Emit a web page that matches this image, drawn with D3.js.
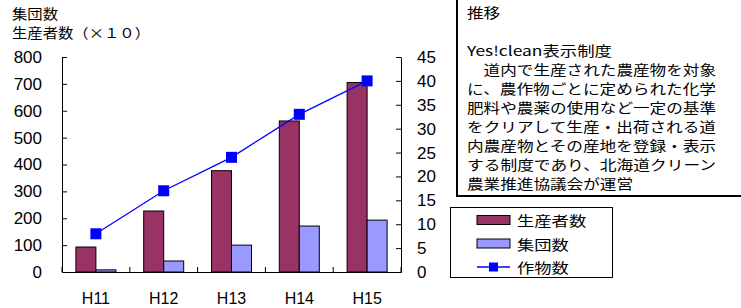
<!DOCTYPE html>
<html>
<head>
<meta charset="utf-8">
<script src="https://cdn.jsdelivr.net/npm/d3@7"></script>
<style>
  body { margin: 0; background: #fff; }
  svg { display: block; font-family: "Liberation Sans", Arial, sans-serif; }
  .jp { font-family: "Noto Sans CJK JP", sans-serif; }
</style>
</head>
<body>
<div id="chart"></div>
<script>
// data
const years = ["H11", "H12", "H13", "H14", "H15"];
const producers = [93, 227, 377, 562, 705];   // 生産者数 (×10)
const groups = [8, 41, 100, 171, 193];        // 集団数
const crops = [8, 17, 24, 33, 40];            // 作物数 (right axis)
const leftTicks = [0, 100, 200, 300, 400, 500, 600, 700, 800];
const rightTicks = [0, 5, 10, 15, 20, 25, 30, 35, 40, 45];
const noteLines = [
  "推移",
  "",
  "Yes!clean表示制度",
  "　道内で生産された農産物を対象",
  "に、農作物ごとに定められた化学",
  "肥料や農薬の使用など一定の基準",
  "をクリアして生産・出荷される道",
  "内農産物とその産地を登録・表示",
  "する制度であり、北海道クリーン",
  "農業推進協議会が運営"
];

const W = 741, H = 308;
const mLeft = 62, mRight = 401, mTop = 57, mBottom = 272;
const cw = 16.6; // width of one full-width character in the picture

const svg = d3.select("#chart").append("svg")
  .attr("width", W).attr("height", H);

const x = d3.scaleBand().domain(years).range([mLeft, mRight]);
const bw = x.bandwidth();
const x1 = d3.scaleBand().domain(["p", "g"]).range([bw * 0.205, bw * 0.795]);
const y = d3.scaleLinear().domain([0, 800]).range([mBottom, mTop]);
const y2 = d3.scaleLinear().domain([0, 45]).range([mBottom, mTop]);

// wide japanese text (glyphs stretched like in the source)
function jpText(sel, str, px, py, len) {
  return sel.append("text").attr("class", "jp")
    .attr("x", px).attr("y", py)
    .attr("font-size", 13.5)
    .attr("textLength", len)
    .attr("lengthAdjust", "spacingAndGlyphs")
    .text(str);
}

// axis titles
jpText(svg, "集団数", 12, 19, 46);
jpText(svg, "生産者数（×１０）", 12, 38, 138);

// bars
const g = svg.append("g");
g.selectAll("rect.p").data(producers).join("rect")
  .attr("class", "p")
  .attr("x", (d, i) => x(years[i]) + x1("p"))
  .attr("y", d => y(d))
  .attr("width", x1.bandwidth())
  .attr("height", d => y(0) - y(d))
  .attr("fill", "#993366").attr("stroke", "#000").attr("stroke-width", 1);
g.selectAll("rect.g").data(groups).join("rect")
  .attr("class", "g")
  .attr("x", (d, i) => x(years[i]) + x1("g"))
  .attr("y", d => y(d))
  .attr("width", x1.bandwidth())
  .attr("height", d => y(0) - y(d))
  .attr("fill", "#9999FF").attr("stroke", "#000").attr("stroke-width", 1);

// axes
const axL = svg.append("g").attr("transform", `translate(${mLeft},0)`)
  .call(d3.axisLeft(y).tickValues(leftTicks).tickSize(-5).tickPadding(20).tickSizeOuter(0));
const axR = svg.append("g").attr("transform", `translate(${mRight},0)`)
  .call(d3.axisRight(y2).tickValues(rightTicks).tickSize(-5).tickPadding(16).tickSizeOuter(0));
const axB = svg.append("g").attr("transform", `translate(0,${mBottom})`)
  .call(d3.axisBottom(x).tickSize(0).tickPadding(21).tickSizeOuter(0));
// category boundary ticks
svg.append("g").selectAll("line")
  .data(years.map(d => x(d)).concat([x(years[years.length - 1]) + bw]))
  .join("line")
  .attr("x1", d => d).attr("x2", d => d)
  .attr("y1", mBottom).attr("y2", mBottom - 5)
  .attr("stroke", "#000");

[axL, axR, axB].forEach(a => {
  a.selectAll("text").attr("font-size", 17).attr("fill", "#000")
    .attr("font-family", "Liberation Sans, Arial, sans-serif");
  a.selectAll("path, line").attr("stroke", "#000");
});
axB.selectAll("text").attr("font-size", 16);

// line series
const line = d3.line().x((d, i) => x(years[i]) + bw / 2).y(d => y2(d));
svg.append("path").datum(crops)
  .attr("d", line).attr("fill", "none")
  .attr("stroke", "#0000FF").attr("stroke-width", 1.3);
svg.selectAll("rect.m").data(crops).join("rect")
  .attr("class", "m")
  .attr("x", (d, i) => x(years[i]) + bw / 2 - 5.5)
  .attr("y", d => y2(d) - 5.5)
  .attr("width", 11).attr("height", 11)
  .attr("fill", "#0000FF");

// note box
svg.append("rect").attr("x", 457).attr("y", -5).attr("width", 300).attr("height", 201)
  .attr("fill", "#fff").attr("stroke", "#000").attr("stroke-width", 2);
const nb = svg.append("g");
noteLines.forEach((s, i) => {
  if (!s) return;
  const len = s.startsWith("Yes") ? 145 : s.length * cw;
  jpText(nb, s, 467, 18 + i * 19, len);
});

// legend
const lg = svg.append("g");
lg.append("rect").attr("x", 450.5).attr("y", 207.5).attr("width", 162).attr("height", 70)
  .attr("fill", "#fff").attr("stroke", "#000");
const legItems = [
  { name: "生産者数", type: "bar", color: "#993366" },
  { name: "集団数", type: "bar", color: "#9999FF" },
  { name: "作物数", type: "line", color: "#0000FF" }
];
legItems.forEach((d, i) => {
  const cy = 220 + i * 23.5;
  if (d.type === "bar") {
    lg.append("rect").attr("x", 477).attr("y", cy - 4.5).attr("width", 33).attr("height", 9)
      .attr("fill", d.color).attr("stroke", "#000");
  } else {
    lg.append("line").attr("x1", 477).attr("x2", 510).attr("y1", cy).attr("y2", cy)
      .attr("stroke", d.color).attr("stroke-width", 1.3);
    lg.append("rect").attr("x", 489).attr("y", cy - 4.5).attr("width", 9).attr("height", 9)
      .attr("fill", d.color);
  }
  jpText(lg, d.name, 517, cy + 6, d.name.length * 17.3);
});
</script>
</body>
</html>
